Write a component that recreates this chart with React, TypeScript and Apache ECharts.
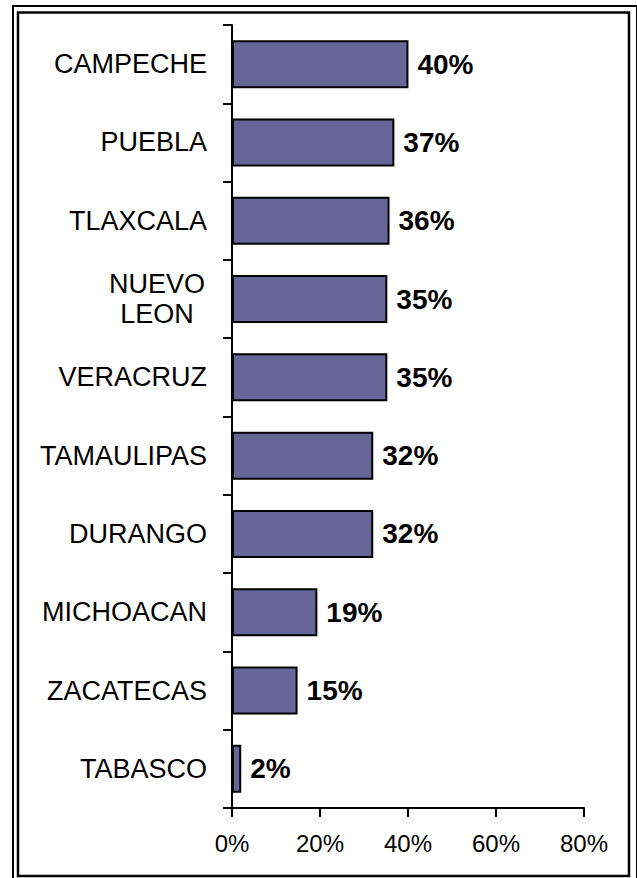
import React, { useEffect, useRef } from "react";
import * as echarts from "echarts";

const categories = [
  "CAMPECHE",
  "PUEBLA",
  "TLAXCALA",
  "NUEVO LEON",
  "VERACRUZ",
  "TAMAULIPAS",
  "DURANGO",
  "MICHOACAN",
  "ZACATECAS",
  "TABASCO",
];
const values = [40.1, 36.9, 35.8, 35.3, 35.3, 32.1, 32.1, 19.4, 14.9, 2.1];
const xTicks = [0, 20, 40, 60, 80];

const FONT = "'Liberation Sans', Arial, Helvetica, sans-serif";

export default function App() {
  const ref = useRef<HTMLDivElement>(null);
  useEffect(() => {
    if (!ref.current) return;
    const chart = echarts.init(ref.current, null, { renderer: "svg" });
    chart.setOption({
      animation: false,
      backgroundColor: "#ffffff",
      grid: { left: 232, right: 53, top: 25, bottom: 70, containLabel: false },
      xAxis: {
        type: "value",
        min: xTicks[0],
        max: xTicks[xTicks.length - 1],
        interval: 20,
        splitLine: { show: false },
        axisLine: { show: true, lineStyle: { color: "#000", width: 2 } },
        axisTick: { show: true, length: 9, lineStyle: { color: "#000", width: 2 } },
        axisLabel: {
          formatter: "{value}%",
          color: "#000",
          fontFamily: FONT,
          fontSize: 24,
          margin: 23,
        },
      },
      yAxis: {
        type: "category",
        data: categories,
        inverse: true,
        axisLine: { show: true, lineStyle: { color: "#000", width: 2 } },
        axisTick: { show: true, length: 9, lineStyle: { color: "#000", width: 2 } },
        axisLabel: {
          color: "#000",
          fontFamily: FONT,
          fontSize: 27,
          margin: 25,
          formatter: (v: string) =>
            v === "NUEVO LEON" ? "{c|NUEVO}\n{c|LEON}" : v,
          rich: {
            c: {
              width: 100,
              align: "center",
              fontFamily: FONT,
              fontSize: 27,
              color: "#000",
              lineHeight: 30,
            },
          },
        },
      },
      series: [
        {
          type: "bar",
          data: values,
          barWidth: 48,
          itemStyle: { color: "#666699", borderColor: "#000", borderWidth: 2 },
          label: {
            show: true,
            position: "right",
            distance: 9,
            formatter: (p: any) => Math.round(p.value) + "%",
            color: "#000",
            fontFamily: FONT,
            fontWeight: "bold",
            fontSize: 28,
          },
        },
      ],
      graphic: [
        {
          type: "rect",
          shape: { x: 13, y: 6, width: 624, height: 876 },
          style: { fill: "none", stroke: "#000", lineWidth: 2 },
          silent: true,
        },
        {
          type: "rect",
          shape: { x: 18, y: 12.5, width: 611, height: 863.5 },
          style: { fill: "none", stroke: "#000", lineWidth: 2.5 },
          silent: true,
        },
      ],
    });
    return () => chart.dispose();
  }, []);
  return (
    <div
      ref={ref}
      style={{ position: "absolute", left: 0, top: 0, width: 637, height: 878 }}
    />
  );
}
